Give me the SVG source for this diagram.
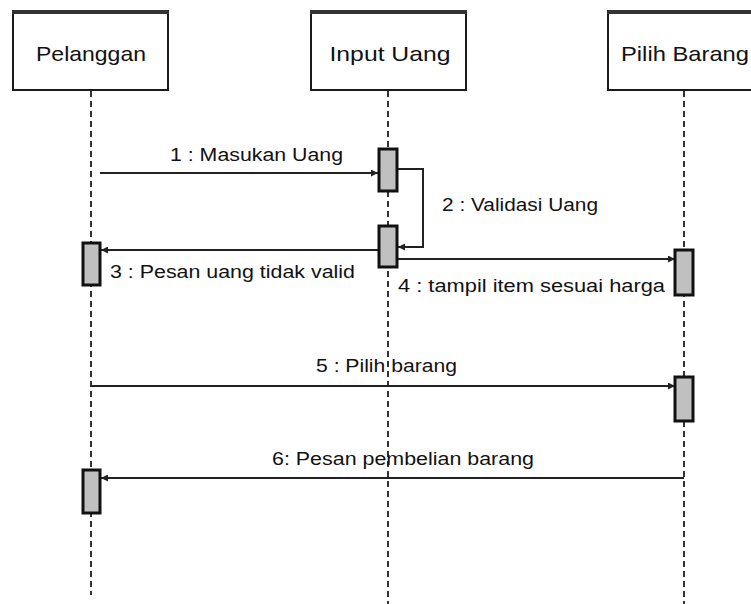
<svg xmlns="http://www.w3.org/2000/svg" width="751" height="604" viewBox="0 0 751 604">
<defs>
<style>
.box{fill:#fff;stroke:#1a1a1a;stroke-width:2}
.boxtop{stroke:#333;stroke-width:4}
.name{font-family:"Liberation Sans",Arial,sans-serif;font-size:21px;fill:#111}
.life{stroke:#333;stroke-width:2;stroke-dasharray:6 4;fill:none}
.act{fill:#c0c0c0;stroke:#111;stroke-width:3}
.msg{stroke:#222;stroke-width:2;fill:none}
.lbl{font-family:"Liberation Sans",Arial,sans-serif;font-size:17.5px;fill:#111}
</style>
<marker id="ah" viewBox="0 0 10 10" refX="10" refY="5" markerWidth="7" markerHeight="7" markerUnits="userSpaceOnUse" orient="auto">
<path d="M0,0 L10,5 L0,10 z" fill="#222"/>
</marker>
</defs>
<rect width="751" height="604" fill="#fff"/>
<g id="lifelines">
<line class="life" x1="91" y1="91" x2="91" y2="595"/>
<line class="life" x1="388" y1="91" x2="388" y2="604"/>
<line class="life" x1="684" y1="91" x2="684" y2="604"/>
</g>
<g id="pelanggan">
<rect class="box" x="13" y="11" width="155" height="79"/>
<line class="boxtop" x1="12" y1="12" x2="169" y2="12"/>
<text class="name" x="91" y="61" text-anchor="middle" textLength="110" lengthAdjust="spacingAndGlyphs">Pelanggan</text>
</g>
<g id="input-uang">
<rect class="box" x="311" y="11" width="155" height="79"/>
<line class="boxtop" x1="310" y1="12" x2="467" y2="12"/>
<text class="name" x="390" y="61" text-anchor="middle" textLength="121" lengthAdjust="spacingAndGlyphs">Input Uang</text>
</g>
<g id="pilih-barang">
<rect class="box" x="608" y="11" width="155" height="79"/>
<line class="boxtop" x1="607" y1="12" x2="751" y2="12"/>
<text class="name" x="685" y="61" text-anchor="middle" textLength="128" lengthAdjust="spacingAndGlyphs">Pilih Barang</text>
</g>
<g id="connectors">
<line class="msg" x1="100" y1="173" x2="378" y2="173" marker-end="url(#ah)"/>
<polyline class="msg" points="397,169 423,169 423,247 398,247" marker-end="url(#ah)"/>
<line class="msg" x1="378" y1="250" x2="101" y2="250" marker-end="url(#ah)"/>
<line class="msg" x1="397" y1="259" x2="675" y2="259" marker-end="url(#ah)"/>
<line class="msg" x1="91" y1="386" x2="675" y2="386" marker-end="url(#ah)"/>
<line class="msg" x1="684" y1="478" x2="101" y2="478" marker-end="url(#ah)"/>
</g>
<g id="activations">
<rect class="act" x="379" y="149" width="18" height="42"/>
<rect class="act" x="379" y="226" width="18" height="41"/>
<rect class="act" x="83" y="243" width="17" height="42"/>
<rect class="act" x="675" y="250" width="18" height="45"/>
<rect class="act" x="675" y="377" width="18" height="44"/>
<rect class="act" x="83" y="470" width="17" height="43"/>
</g>
<g id="labels">
<text class="lbl" x="170" y="161" textLength="173" lengthAdjust="spacingAndGlyphs">1 : Masukan Uang</text>
<text class="lbl" x="442" y="211" textLength="156" lengthAdjust="spacingAndGlyphs">2 : Validasi Uang</text>
<text class="lbl" x="110" y="278" textLength="245" lengthAdjust="spacingAndGlyphs">3 : Pesan uang tidak valid</text>
<text class="lbl" x="398" y="292" textLength="267" lengthAdjust="spacingAndGlyphs">4 : tampil item sesuai harga</text>
<text class="lbl" x="316" y="372" textLength="141" lengthAdjust="spacingAndGlyphs">5 : Pilih barang</text>
<text class="lbl" x="272" y="465" textLength="262" lengthAdjust="spacingAndGlyphs">6: Pesan pembelian barang</text>
</g>
</svg>
